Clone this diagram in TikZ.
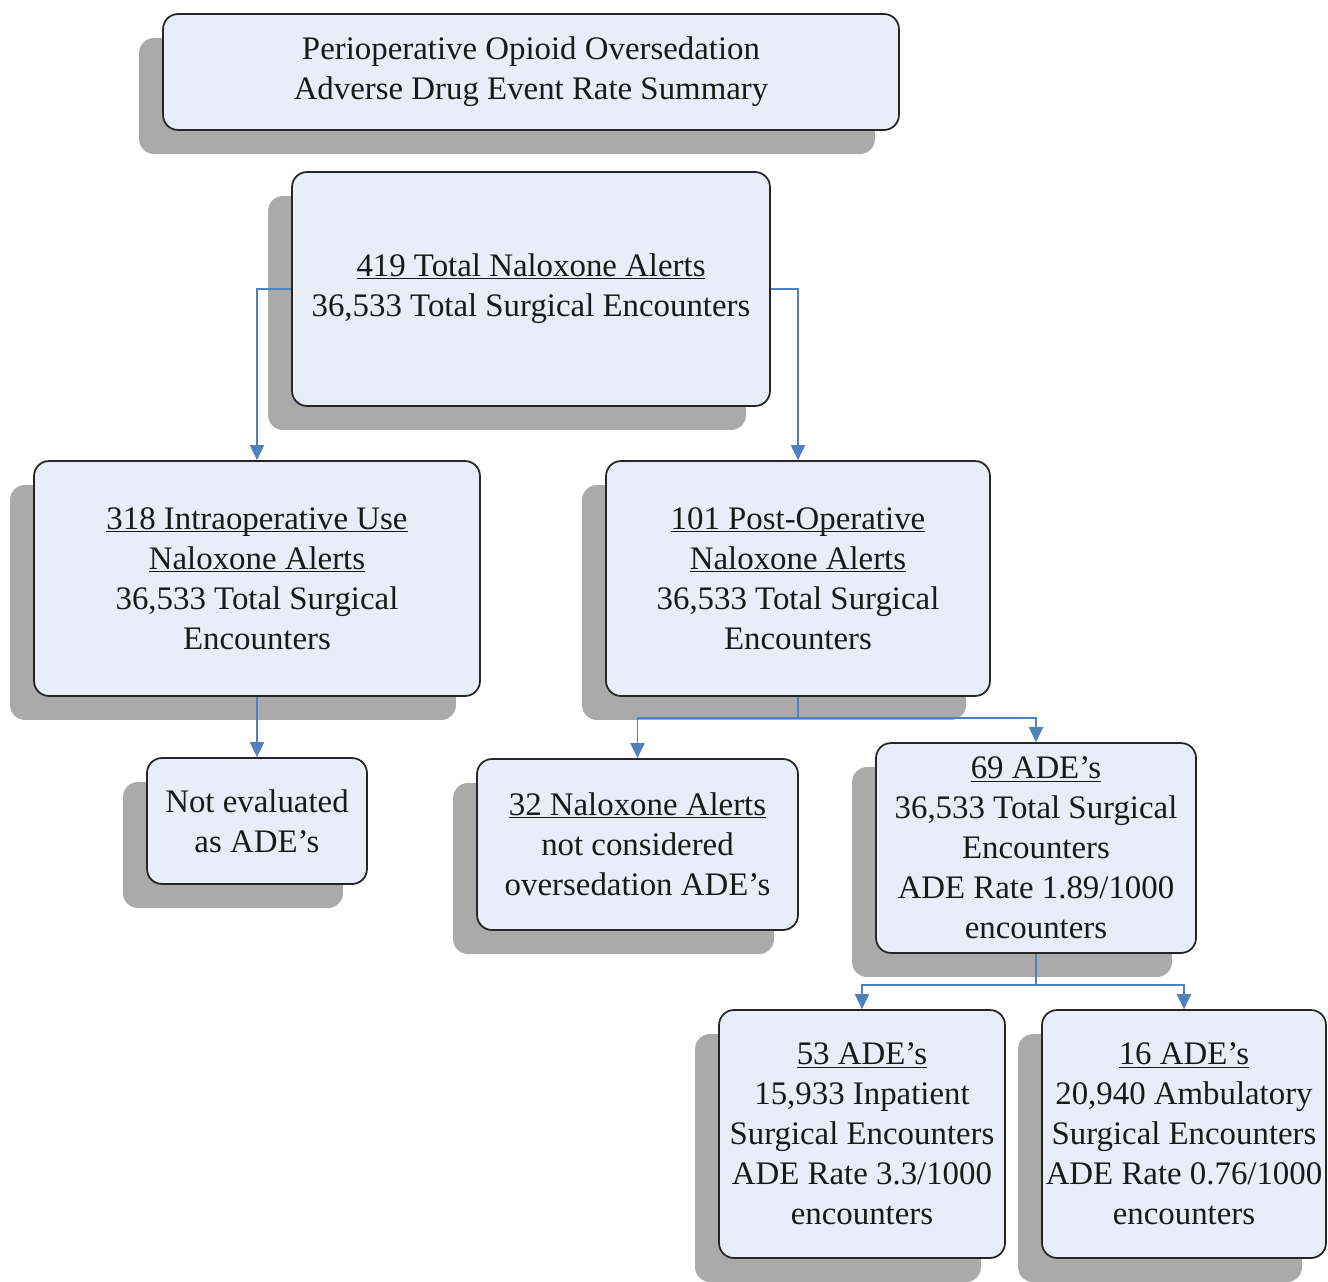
\documentclass[tikz,border=0pt]{standalone}
\usepackage{fontspec}
\setmainfont{Liberation Serif}
\usetikzlibrary{shadows,arrows.meta}

\definecolor{boxfill}{RGB}{232,237,247}
\definecolor{shadowgray}{RGB}{170,170,170}
\definecolor{linkblue}{RGB}{79,129,189}
\newcommand{\headline}[1]{\underline{\smash{#1}}\vphantom{A}}

\begin{document}
\begin{tikzpicture}[x=0.02cm, y=-0.02cm,
  box/.style={draw=black!85, line width=1pt, fill=boxfill, rounded corners=0.3cm,
    inner sep=0pt, align=center, text=black!90,
    font=\fontsize{18.7pt}{22.7pt}\selectfont,
    drop shadow={shadow xshift=-0.48cm, shadow yshift=-0.48cm, fill=shadowgray, opacity=1}},
  link/.style={draw=linkblue, line width=1.1pt, -{Triangle[length=0.3cm, width=0.28cm]}},
  fork/.style={draw=linkblue, line width=1.1pt}]
  \useasboundingbox (0,0) rectangle (1328,1281);

  \node[box, minimum width=14.72cm, minimum height=2.32cm] (title) at (531,72)
    {Perioperative Opioid Oversedation\\Adverse Drug Event Rate Summary};
  \node[box, minimum width=9.56cm, minimum height=4.68cm] (total) at (531,289)
    {\headline{419 Total Naloxone Alerts}\\36,533 Total Surgical Encounters};
  \node[box, minimum width=8.92cm, minimum height=4.7cm] (intra) at (257,578.5)
    {\headline{318 Intraoperative Use}\\\headline{Naloxone Alerts}\\36,533 Total Surgical\\Encounters};
  \node[box, minimum width=7.68cm, minimum height=4.7cm] (post) at (798,578.5)
    {\headline{101 Post-Operative}\\\headline{Naloxone Alerts}\\36,533 Total Surgical\\Encounters};
  \node[box, minimum width=4.4cm, minimum height=2.52cm] (noteval) at (257,821)
    {Not evaluated\\as ADE’s};
  \node[box, minimum width=6.42cm, minimum height=3.42cm] (notcons) at (637.5,844.5)
    {\headline{32 Naloxone Alerts}\\not considered\\oversedation ADE’s};
  \node[box, minimum width=6.4cm, minimum height=4.2cm] (ade69) at (1036,848)
    {\headline{69 ADE’s}\\36,533 Total Surgical\\Encounters\\ADE Rate 1.89/1000\\encounters};
  \node[box, minimum width=5.72cm, minimum height=4.96cm] (ade53) at (862,1134)
    {\headline{53 ADE’s}\\15,933 Inpatient\\Surgical Encounters\\ADE Rate 3.3/1000\\encounters};
  \node[box, minimum width=5.68cm, minimum height=4.96cm] (ade16) at (1184,1134)
    {\headline{16 ADE’s}\\20,940 Ambulatory\\Surgical Encounters\\ADE Rate 0.76/1000\\encounters};

  % connectors
  \coordinate (postfork) at (798,718);
  \coordinate (adefork) at (1036,985);
  \draw[link] (total.west) -| (intra.north);
  \draw[link] (total.east) -| (post.north);
  \draw[link] (intra.south) -- (noteval.north);
  \draw[fork] (post.south) -- (postfork);
  \draw[link] (postfork) -| (notcons.north);
  \draw[link] (postfork) -| (ade69.north);
  \draw[fork] (ade69.south) -- (adefork);
  \draw[link] (adefork) -| (ade53.north);
  \draw[link] (adefork) -| (ade16.north);
\end{tikzpicture}
\end{document}
